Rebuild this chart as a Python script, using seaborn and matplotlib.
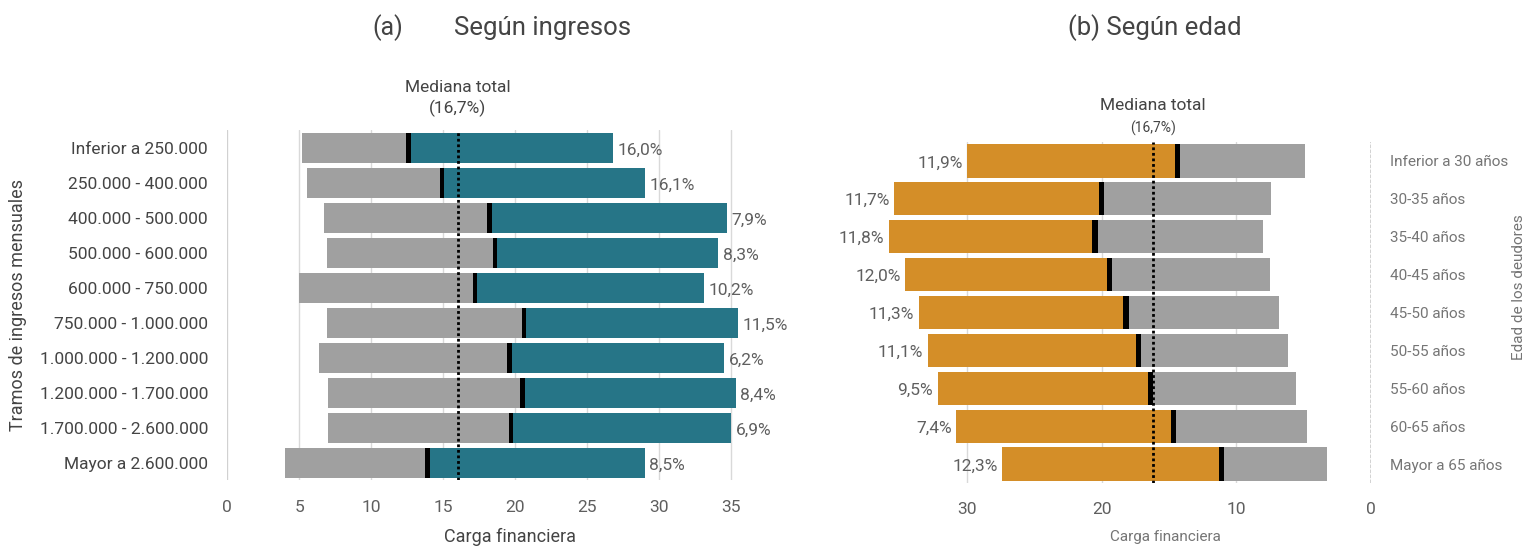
import numpy as np
import pandas as pd
import seaborn as sns
import matplotlib.pyplot as plt

# %% Datos
ingresos = ["Inferior a 250.000", "250.000 - 400.000", "400.000 - 500.000",
            "500.000 - 600.000", "600.000 - 750.000", "750.000 - 1.000.000",
            "1.000.000 - 1.200.000", "1.200.000 - 1.700.000",
            "1.700.000 - 2.600.000", "Mayor a 2.600.000"]
ing_p25 = [5.2, 5.55, 6.7, 6.9, 5.0, 6.95, 6.35, 7.0, 7.0, 4.0]
ing_med = [12.6, 14.9, 18.2, 18.6, 17.2, 20.6, 19.6, 20.5, 19.7, 13.9]
ing_p75 = [26.8, 29.0, 34.7, 34.1, 33.1, 35.5, 34.5, 35.3, 35.0, 29.0]
ing_pct = ["16,0%", "16,1%", "7,9%", "8,3%", "10,2%", "11,5%", "6,2%",
           "8,4%", "6,9%", "8,5%"]

edad = ["Inferior a 30 años", "30-35 años", "35-40 años", "40-45 años",
        "45-50 años", "50-55 años", "55-60 años", "60-65 años",
        "Mayor a 65 años"]
edad_p25 = [4.9, 7.4, 8.0, 7.5, 6.85, 6.2, 5.6, 4.75, 3.3]
edad_med = [14.4, 20.0, 20.5, 19.4, 18.2, 17.25, 16.35, 14.7, 11.1]
edad_p75 = [30.0, 35.4, 35.8, 34.6, 33.6, 32.9, 32.2, 30.8, 27.4]
edad_pct = ["11,9%", "11,7%", "11,8%", "12,0%", "11,3%", "11,1%", "9,5%",
            "7,4%", "12,3%"]

mediana_ing = 16.0
mediana_edad = 16.2
mediana_txt = "(16,7%)"

df_ing = pd.DataFrame({"tramo": ingresos, "p25": ing_p25, "med": ing_med,
                       "p75": ing_p75})
df_edad = pd.DataFrame({"tramo": edad, "p25": edad_p25, "med": edad_med,
                        "p75": edad_p75})

# %% Estilo
sns.set_style("white")
plt.rcParams["font.family"] = ["Roboto", "DejaVu Sans"]

GRIS = "#a0a0a0"
TEAL = "#267587"
NARANJA = "#d48e28"
TXT = "#444444"
TICK = "#5f5f5f"
MARK_W = 0.32

fig = plt.figure(figsize=(15.26, 5.46), dpi=100)
ax1 = fig.add_axes([0.149, 0.120, 0.3585, 0.641])
ax2 = fig.add_axes([0.5544, 0.1154, 0.344, 0.6245])

# %% (a) Según ingresos
sns.barplot(data=df_ing, x=df_ing.med - df_ing.p25, y="tramo", left=df_ing.p25,
            color=GRIS, saturation=1, width=0.86, errorbar=None, linewidth=0,
            ax=ax1, zorder=2)
sns.barplot(data=df_ing, x=df_ing.p75 - df_ing.med, y="tramo", left=df_ing.med,
            color=TEAL, saturation=1, width=0.86, errorbar=None, linewidth=0,
            ax=ax1, zorder=2)
sns.barplot(data=df_ing, x=[MARK_W] * len(df_ing), y="tramo",
            left=df_ing.med - MARK_W / 2, color="black", saturation=1,
            width=0.86, errorbar=None, linewidth=0, ax=ax1, zorder=3)
for i, (v, t) in enumerate(zip(ing_p75, ing_pct)):
    ax1.text(v + 0.3, i + 0.08, t, ha="left", va="center", fontsize=12.5,
             color=TICK)
ax1.axvline(mediana_ing, color="black", ls=(0, (1, 1)), lw=2, zorder=4)
ax1.text(mediana_ing, 1.122, "Mediana total", transform=ax1.get_xaxis_transform(),
         ha="center", va="center", fontsize=12.5, color=TXT)
ax1.text(mediana_ing, 1.064, mediana_txt, transform=ax1.get_xaxis_transform(),
         ha="center", va="center", fontsize=12.5, color=TXT)

ax1.set_xlim(0, 38)
ax1.set_ylim(len(ingresos) - 0.5, -0.5)
ax1.set_xticks(range(0, 40, 5))
ax1.xaxis.grid(True, color="#d9d9d9", lw=1)
ax1.set_axisbelow(True)
ax1.axvline(0, color="#d0d0d0", lw=1.2, zorder=1)
ax1.set_xlabel("")
ax1.set_ylabel("")
ax1.tick_params(axis="x", labelsize=12.5, colors=TICK, length=0, pad=14)
ax1.tick_params(axis="y", labelsize=12.5, colors=TXT, length=0, pad=14)
sns.despine(ax=ax1, left=True, bottom=True)

# %% (b) Según edad
sns.barplot(data=df_edad, x=df_edad.p75 - df_edad.med, y="tramo",
            left=df_edad.med, color=NARANJA, saturation=1, width=0.875,
            errorbar=None, linewidth=0, ax=ax2, zorder=2)
sns.barplot(data=df_edad, x=df_edad.med - df_edad.p25, y="tramo",
            left=df_edad.p25, color=GRIS, saturation=1, width=0.875,
            errorbar=None, linewidth=0, ax=ax2, zorder=2)
sns.barplot(data=df_edad, x=[0.38] * len(df_edad), y="tramo",
            left=df_edad.med - 0.19, color="black", saturation=1,
            width=0.875, errorbar=None, linewidth=0, ax=ax2, zorder=3)
for i, (v, t) in enumerate(zip(edad_p75, edad_pct)):
    ax2.text(v + 0.35, i + 0.05, t, ha="right", va="center", fontsize=12.5,
             color=TICK)
ax2.axvline(mediana_edad, color="black", ls=(0, (1, 1)), lw=2, zorder=4)
ax2.text(mediana_edad, 1.108, "Mediana total", transform=ax2.get_xaxis_transform(),
         ha="center", va="center", fontsize=12.5, color=TXT)
ax2.text(mediana_edad, 1.041, mediana_txt, transform=ax2.get_xaxis_transform(),
         ha="center", va="center", fontsize=10, color=TXT)

ax2.set_xlim(39, 0)
ax2.set_ylim(len(edad) - 0.5, -0.5)
ax2.set_xticks([30, 20, 10, 0])
ax2.xaxis.grid(True, color="#d9d9d9", lw=1)
ax2.set_axisbelow(True)
ax2.axvline(0, color="#cccccc", lw=1.2, ls=(0, (2, 1)), zorder=1)
ax2.yaxis.tick_right()
ax2.set_xlabel("")
ax2.set_ylabel("")
ax2.tick_params(axis="x", labelsize=12.5, colors=TICK, length=0, pad=14)
ax2.tick_params(axis="y", labelsize=11, colors="#757575", length=0, pad=14)
sns.despine(ax=ax2, left=True, bottom=True)

# %% Títulos y etiquetas
fig.text(388 / 1526, 1 - 28 / 546, "(a)", ha="center", va="center",
         fontsize=18, color=TXT)
fig.text(543 / 1526, 1 - 28 / 546, "Según ingresos", ha="center", va="center",
         fontsize=18.5, color=TXT)
fig.text(1155 / 1526, 1 - 28 / 546, "(b) Según edad", ha="center", va="center",
         fontsize=18.5, color=TXT)
fig.text(18 / 1526, 1 - 305 / 546, "Tramos de ingresos mensuales", rotation=90,
         ha="center", va="center", fontsize=13, color=TXT)
fig.text(1519 / 1526, 1 - 287 / 546, "Edad de los deudores", rotation=90,
         ha="center", va="center", fontsize=11, color="#757575")
fig.text(510 / 1526, 1 - 537 / 546, "Carga financiera", ha="center",
         va="center", fontsize=13, color=TXT)
fig.text(1165 / 1526, 1 - 537 / 546, "Carga financiera", ha="center",
         va="center", fontsize=11, color="#757575")

fig.savefig("out.png", dpi=100)
